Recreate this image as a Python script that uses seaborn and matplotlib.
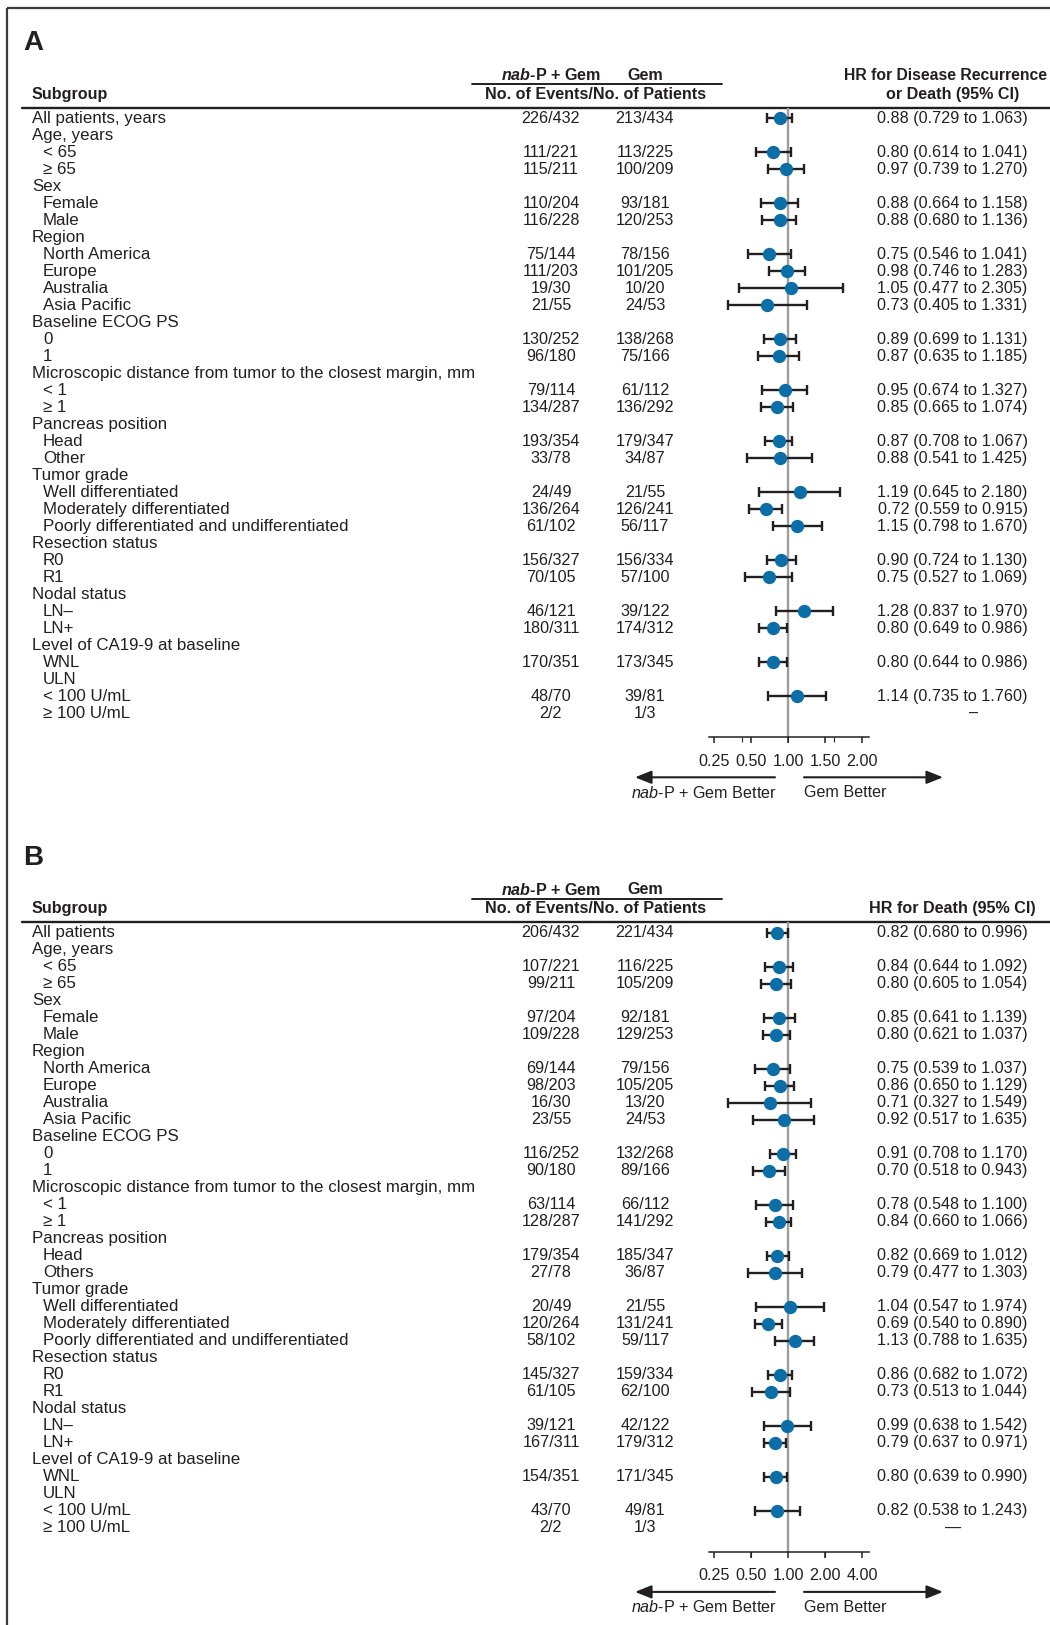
import matplotlib
matplotlib.use('Agg')

import numpy as np
import pandas as pd
import matplotlib.pyplot as plt
import seaborn as sns

nan = np.nan

# ----------------------------------------------------
# data
# ----------------------------------------------------
LABELS_A = [
    "All patients, years", "Age, years", "< 65", "\u2265 65",
    "Sex", "Female", "Male",
    "Region", "North America", "Europe", "Australia", "Asia Pacific",
    "Baseline ECOG PS", "0", "1",
    "Microscopic distance from tumor to the closest margin, mm", "< 1", "\u2265 1",
    "Pancreas position", "Head", "Other",
    "Tumor grade", "Well differentiated", "Moderately differentiated",
    "Poorly differentiated and undifferentiated",
    "Resection status", "R0", "R1",
    "Nodal status", "LN\u2013", "LN+",
    "Level of CA19-9 at baseline", "WNL", "ULN", "< 100 U/mL", "\u2265 100 U/mL",
]
LABELS_B = list(LABELS_A)
LABELS_B[0] = "All patients"
LABELS_B[20] = "Others"

# 0 = group heading, 1 = indented subgroup
LEVEL = [0, 0, 1, 1, 0, 1, 1, 0, 1, 1, 1, 1, 0, 1, 1, 0, 1, 1,
         0, 1, 1, 0, 1, 1, 1, 0, 1, 1, 0, 1, 1, 0, 1, 1, 1, 1]

# panel A: disease recurrence or death
NAB_A = ["226/432", None, "111/221", "115/211", None, "110/204", "116/228", None,
         "75/144", "111/203", "19/30", "21/55", None, "130/252", "96/180", None,
         "79/114", "134/287", None, "193/354", "33/78", None, "24/49", "136/264",
         "61/102", None, "156/327", "70/105", None, "46/121", "180/311", None,
         "170/351", None, "48/70", "2/2"]
GEM_A = ["213/434", None, "113/225", "100/209", None, "93/181", "120/253", None,
         "78/156", "101/205", "10/20", "24/53", None, "138/268", "75/166", None,
         "61/112", "136/292", None, "179/347", "34/87", None, "21/55", "126/241",
         "56/117", None, "156/334", "57/100", None, "39/122", "174/312", None,
         "173/345", None, "39/81", "1/3"]
HR_A = [0.88, nan, 0.80, 0.97, nan, 0.88, 0.88, nan, 0.75, 0.98, 1.05, 0.73, nan,
        0.89, 0.87, nan, 0.95, 0.85, nan, 0.87, 0.88, nan, 1.19, 0.72, 1.15, nan,
        0.90, 0.75, nan, 1.28, 0.80, nan, 0.80, nan, 1.14, nan]
LO_A = [0.729, nan, 0.614, 0.739, nan, 0.664, 0.680, nan, 0.546, 0.746, 0.477, 0.405, nan,
        0.699, 0.635, nan, 0.674, 0.665, nan, 0.708, 0.541, nan, 0.645, 0.559, 0.798, nan,
        0.724, 0.527, nan, 0.837, 0.649, nan, 0.644, nan, 0.735, nan]
HI_A = [1.063, nan, 1.041, 1.270, nan, 1.158, 1.136, nan, 1.041, 1.283, 2.305, 1.331, nan,
        1.131, 1.185, nan, 1.327, 1.074, nan, 1.067, 1.425, nan, 2.180, 0.915, 1.670, nan,
        1.130, 1.069, nan, 1.970, 0.986, nan, 0.986, nan, 1.760, nan]
TICKS_A = ["0.25", "0.50", "1.00", "1.50", "2.00"]

# panel B: death
NAB_B = ["206/432", None, "107/221", "99/211", None, "97/204", "109/228", None,
         "69/144", "98/203", "16/30", "23/55", None, "116/252", "90/180", None,
         "63/114", "128/287", None, "179/354", "27/78", None, "20/49", "120/264",
         "58/102", None, "145/327", "61/105", None, "39/121", "167/311", None,
         "154/351", None, "43/70", "2/2"]
GEM_B = ["221/434", None, "116/225", "105/209", None, "92/181", "129/253", None,
         "79/156", "105/205", "13/20", "24/53", None, "132/268", "89/166", None,
         "66/112", "141/292", None, "185/347", "36/87", None, "21/55", "131/241",
         "59/117", None, "159/334", "62/100", None, "42/122", "179/312", None,
         "171/345", None, "49/81", "1/3"]
HR_B = [0.82, nan, 0.84, 0.80, nan, 0.85, 0.80, nan, 0.75, 0.86, 0.71, 0.92, nan,
        0.91, 0.70, nan, 0.78, 0.84, nan, 0.82, 0.79, nan, 1.04, 0.69, 1.13, nan,
        0.86, 0.73, nan, 0.99, 0.79, nan, 0.80, nan, 0.82, nan]
LO_B = [0.680, nan, 0.644, 0.605, nan, 0.641, 0.621, nan, 0.539, 0.650, 0.327, 0.517, nan,
        0.708, 0.518, nan, 0.548, 0.660, nan, 0.669, 0.477, nan, 0.547, 0.540, 0.788, nan,
        0.682, 0.513, nan, 0.638, 0.637, nan, 0.639, nan, 0.538, nan]
HI_B = [0.996, nan, 1.092, 1.054, nan, 1.139, 1.037, nan, 1.037, 1.129, 1.549, 1.635, nan,
        1.170, 0.943, nan, 1.100, 1.066, nan, 1.012, 1.303, nan, 1.974, 0.890, 1.635, nan,
        1.072, 1.044, nan, 1.542, 0.971, nan, 0.990, nan, 1.243, nan]
TICKS_B = ["0.25", "0.50", "1.00", "2.00", "4.00"]

# ----------------------------------------------------
# style
# ----------------------------------------------------
sns.set_style("white")
plt.rcParams['font.family'] = ['Liberation Sans', 'DejaVu Sans']
plt.rcParams['mathtext.fontset'] = 'custom'
plt.rcParams['mathtext.rm'] = 'Liberation Sans'
plt.rcParams['mathtext.it'] = 'Liberation Sans:italic'
plt.rcParams['mathtext.bf'] = 'Liberation Sans:bold'
plt.rcParams['mathtext.bfit'] = 'Liberation Sans:italic:bold'

INK = "#231f20"
BLUE = "#0b6ea6"
FS_LAB = 12.2   # subgroup labels
FS = 11.6       # numbers and headers
W, H = 1050, 1625

fig = plt.figure(figsize=(W / 100, H / 100), dpi=100)
base = fig.add_axes([0, 0, 1, 1])
base.set_xlim(0, W)
base.set_ylim(H, 0)
base.axis('off')

# frame (left and top edges only are visible in the original)
base.plot([6.5, 6.5], [8, H], color="#3a3a3a", lw=1.6, solid_capstyle='butt')
base.plot([6.5, W], [8, 8], color="#3a3a3a", lw=1.6, solid_capstyle='butt')

ROW0, STEP = 118.3, 17.0
PLOT_L, PLOT_R, REF_X = 709, 869, 788
TOP_LINE, RULER_Y = 107.8, 737.3


def draw_panel(off, letter, labels, nab, gem, hr, lo, hi, hr_head, px_doubling, ticks, dash, dash_x):
    # panel letter and column headers
    base.text(23, 43 + off, letter, fontsize=20, fontweight='bold', color=INK, va='center')
    base.text(32, 94.3 + off, "Subgroup", fontsize=FS, fontweight='bold', color=INK, va='center')
    base.text(551, 75 + off, r"$\mathbfit{nab}$-P + Gem", fontsize=FS, fontweight='bold',
              color=INK, ha='center', va='center')
    base.text(645, 75 + off, "Gem", fontsize=FS, fontweight='bold', color=INK, ha='center', va='center')
    base.plot([471.6, 722.4], [84 + off, 84 + off], color=INK, lw=1.4)
    base.text(596, 94.3 + off, "No. of Events/No. of Patients", fontsize=FS, fontweight='bold',
              color=INK, ha='center', va='center')
    for j, line in enumerate(reversed(hr_head)):
        # the long first line runs to the right edge; keep it inside
        cx = 952.5 if j == 0 else 945
        base.text(cx, 94.3 - 18.6 * j + off, line, fontsize=FS if j == 0 else 11.3,
                  fontweight='bold', color=INK, ha='center', va='center')
    base.plot([22, W], [TOP_LINE + off, TOP_LINE + off], color=INK, lw=1.7)

    # table rows
    for i, lab in enumerate(labels):
        y = ROW0 + STEP * i + off
        base.text(32 if LEVEL[i] == 0 else 43, y, lab, fontsize=FS_LAB, color=INK, va='center')
        if nab[i] is not None:
            base.text(551, y, nab[i], fontsize=FS, color=INK, ha='center', va='center')
            base.text(645, y, gem[i], fontsize=FS, color=INK, ha='center', va='center')
            if np.isnan(hr[i]):
                base.text(dash_x, y, dash, fontsize=FS, color=INK, ha='center', va='center')
            else:
                base.text(952.5, y, f"{hr[i]:.2f} ({lo[i]:.3f} to {hi[i]:.3f})",
                          fontsize=FS, color=INK, ha='center', va='center')

    # forest plot, log2 scale
    top = TOP_LINE + off
    bot = RULER_Y + off
    ax = fig.add_axes([PLOT_L / W, 1 - bot / H, (PLOT_R - PLOT_L) / W, (bot - top) / H])
    ax.patch.set_alpha(0)
    ax.set_xscale('log', base=2)
    ax.set_xlim(2 ** (-(REF_X - PLOT_L) / px_doubling), 2 ** ((PLOT_R - REF_X) / px_doubling))
    ax.set_ylim((bot - off - ROW0) / STEP, (top - off - ROW0) / STEP)

    df = pd.DataFrame({'row': np.arange(len(hr)), 'hr': hr, 'lo': lo, 'hi': hi}).dropna()
    ax.axvline(1.0, color="#9d9d9d", lw=1.7, zorder=1)
    ax.errorbar(df['hr'], df['row'], xerr=[df['hr'] - df['lo'], df['hi'] - df['hr']],
                fmt='none', ecolor=INK, elinewidth=1.7, capsize=3.6, capthick=1.7, zorder=2)
    sns.scatterplot(data=df, x='hr', y='row', ax=ax, color=BLUE, s=92, linewidth=0,
                    zorder=3, legend=False)
    ax.set_xlabel("")
    ax.set_ylabel("")
    ax.tick_params(which='both', left=False, bottom=False, labelleft=False, labelbottom=False)
    for s in ax.spines.values():
        s.set_visible(False)

    # ruler, evenly spaced labels as printed in the original
    rl = ax.twiny()
    rl.patch.set_alpha(0)
    rl.set_xlim(2 - (REF_X - PLOT_L) / 37.0, 2 + (PLOT_R - REF_X) / 37.0)
    rl.set_xticks(range(len(ticks)))
    rl.set_xticklabels(ticks, fontsize=FS, color=INK)
    rl.tick_params(axis='x', top=False, labeltop=False, bottom=True, labelbottom=True,
                   direction='out', length=4.3, width=1.1, color=INK, pad=7.5)
    for k, s in rl.spines.items():
        s.set_visible(k == 'bottom')
    rl.spines['bottom'].set_linewidth(1.1)
    rl.spines['bottom'].set_color(INK)

    # direction arrows
    ay = 777.3 + off
    arrow = dict(arrowstyle='-|>,head_length=0.55,head_width=0.22', color=INK, lw=1.5,
                 mutation_scale=18, shrinkA=0, shrinkB=0)
    base.annotate("", xy=(635, ay), xytext=(775, ay), arrowprops=arrow)
    base.annotate("", xy=(943, ay), xytext=(804, ay), arrowprops=arrow)
    base.text(704, 792.7 + off, r"$\mathit{nab}$-P + Gem Better", fontsize=FS, color=INK,
              ha='center', va='center')
    base.text(804, 792.7 + off, "Gem Better", fontsize=FS, color=INK, ha='left', va='center')


draw_panel(0, "A", LABELS_A, NAB_A, GEM_A, HR_A, LO_A, HI_A,
           ["HR for Disease Recurrence", "or Death (95% CI)"], 46.0, TICKS_A, "\u2013", 974)
draw_panel(814.6, "B", LABELS_B, NAB_B, GEM_B, HR_B, LO_B, HI_B,
           ["HR for Death (95% CI)"], 37.0, TICKS_B, "\u2014", 953)

plt.savefig("out.png", dpi=100)
